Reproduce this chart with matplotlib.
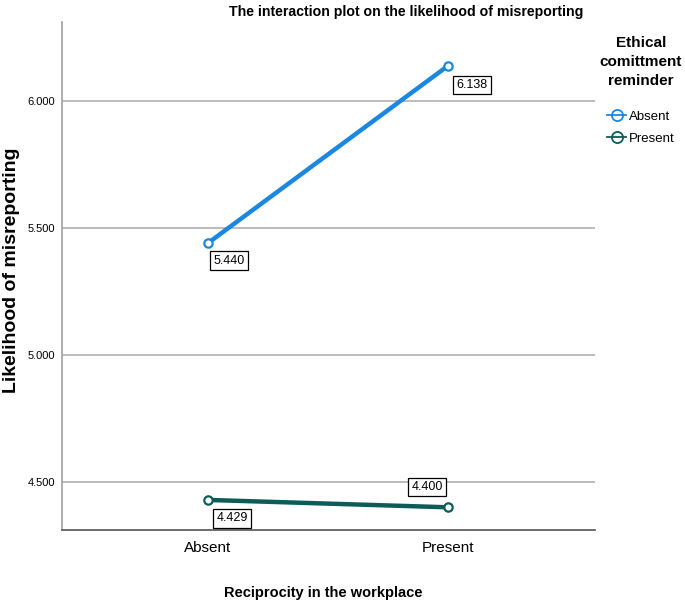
import numpy as np
import matplotlib.pyplot as plt
from matplotlib.lines import Line2D

plt.rcParams['font.family'] = ['Liberation Sans', 'DejaVu Sans']

# data
reciprocity = ['Absent', 'Present']
reminder = ['Absent', 'Present']
absent_means = [5.440, 6.138]
present_means = [4.429, 4.400]
y_ticks = [4.5, 5.0, 5.5, 6.0]
colors = ['#1a88e0', '#0c5c58']

fig = plt.figure(figsize=(6.85, 6.07), dpi=100)
ax = fig.add_axes([0.0905, 0.127, 0.778, 0.837])

x = np.arange(len(reciprocity))
for means, lab, col in zip([absent_means, present_means], reminder, colors):
    ax.plot(x, means, color=col, lw=3.2, marker='o', markersize=6,
            markerfacecolor='white', markeredgecolor=col, markeredgewidth=1.6,
            label=lab, zorder=3)

# boxed value labels, offsets in points from the point
box = dict(boxstyle='square,pad=0.25', fc='white', ec='black', lw=0.9)
offsets = [[(3.8, -8.2, 'left', 'top'), (6, -9.6, 'left', 'top')],
           [(6, -9, 'left', 'top'), (-3.8, 10.3, 'right', 'bottom')]]
for si, means in enumerate([absent_means, present_means]):
    for xi, v in enumerate(means):
        dx, dy, ha, va = offsets[si][xi]
        ax.annotate(f'{v:.3f}', (x[xi], v), xytext=(dx, dy), textcoords='offset points',
                    ha=ha, va=va, fontsize=9, bbox=box, zorder=4)

ax.set_xlim(-0.608, 1.612)
ax.set_ylim(4.311, 6.311)
ax.set_xticks(x)
ax.set_xticklabels(reciprocity, fontsize=11)
ax.set_yticks(y_ticks)
ax.set_yticklabels([f'{t:.3f}' for t in y_ticks], fontsize=8)
ax.tick_params(axis='y', length=0, pad=5)
ax.tick_params(axis='x', length=0, pad=8)
ax.grid(axis='y', color='#b0b0b0', lw=1.2, zorder=0)
ax.spines['top'].set_visible(False)
ax.spines['right'].set_visible(False)
ax.spines['left'].set_color('#a0a0a0')
ax.spines['left'].set_linewidth(1.2)
ax.spines['bottom'].set_color('#555555')
ax.spines['bottom'].set_linewidth(1.2)

fig.text(323 / 685, 1 - 593 / 607, 'Reciprocity in the workplace',
         ha='center', va='center', fontsize=10.5, fontweight='bold')
fig.text(12 / 685, 1 - 270 / 607, 'Likelihood of misreporting', rotation=90,
         ha='center', va='center', fontsize=14, fontweight='bold')
fig.text(0.593, 1 - 12 / 607, 'The interaction plot on the likelihood of misreporting',
         ha='center', va='center', fontsize=10.2, fontweight='bold')

handles = [Line2D([], [], color=c, lw=1.3, marker='o', markersize=8,
                  markerfacecolor='none', markeredgecolor=c, markeredgewidth=1.3)
           for c in colors]
leg = ax.legend(handles, reminder, title='Ethical\ncomittment\nreminder', loc='upper center',
                bbox_to_anchor=(1.086, 0.995), frameon=False, fontsize=9.5,
                handlelength=1.5, handletextpad=0.2, labelspacing=0.75,
                title_fontproperties={'weight': 'bold', 'size': 11})
leg._legend_box.align = 'center'
leg.get_title().set_multialignment('center')
leg.get_title().set_linespacing(1.45)
leg._legend_box.sep = 16

fig.savefig('out.png', dpi=100)
